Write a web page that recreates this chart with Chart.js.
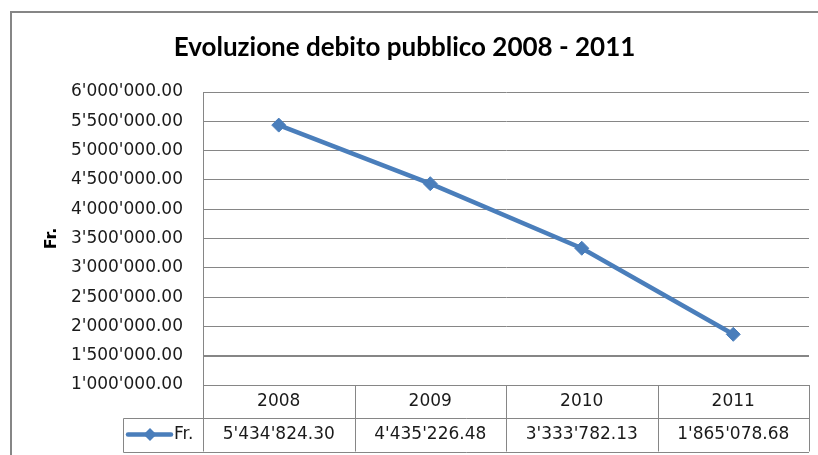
<!DOCTYPE html>
<html><head><meta charset="utf-8">
<script src="https://cdn.jsdelivr.net/npm/chart.js@4/dist/chart.umd.min.js"></script>
<style>html,body{margin:0;padding:0;background:#fff}#wrap{position:relative;width:818px;height:455px}</style>
</head><body><div id="wrap"><canvas id="c" width="818" height="455"></canvas></div>
<script>
const chartTitle = 'Evoluzione debito pubblico 2008 - 2011';
const categories = ['2008', '2009', '2010', '2011'];
const seriesName = 'Fr.';
const values = [5434824.30, 4435226.48, 3333782.13, 1865078.68];
const yMin = 1000000, yMax = 6000000, yStep = 500000;

const FONT = 'DejaVu Sans';
const TITLE_FONT = 'Lato';
const LINE = '#4A7EBB';
const GRID = '#868686';

function fmt(v) {
  const s = Number(v).toFixed(2);
  const [i, d] = s.split('.');
  return i.replace(/\B(?=(\d{3})+(?!\d))/g, "'") + '.' + d;
}

const tablePlugin = {
  id: 'dataTable',
  beforeDraw(chart) {
    const ctx = chart.ctx;
    ctx.save();
    ctx.strokeStyle = GRID; ctx.lineWidth = 2;
    ctx.strokeRect(11, 12, 900, 600);
    ctx.restore();
  },
  afterDraw(chart) {
    const ctx = chart.ctx, x = chart.scales.x, ca = chart.chartArea;
    const n = categories.length;
    const colW = x.getPixelForValue(1) - x.getPixelForValue(0);
    const top = ca.bottom, mid = top + 32.5, bot = top + 66.5;
    const legLeft = 123.5;
    ctx.save();
    ctx.strokeStyle = GRID; ctx.lineWidth = 1;
    ctx.beginPath();
    for (let i = 0; i <= n; i++) {
      const px = Math.round(x.getPixelForValue(0) - colW / 2 + i * colW) + 0.5;
      ctx.moveTo(px, top); ctx.lineTo(px, bot);
    }
    ctx.moveTo(legLeft, Math.round(mid) + 0.5); ctx.lineTo(ca.right, Math.round(mid) + 0.5);
    ctx.moveTo(legLeft, Math.round(bot) + 0.5); ctx.lineTo(ca.right, Math.round(bot) + 0.5);
    ctx.moveTo(legLeft, Math.round(mid) + 0.5); ctx.lineTo(legLeft, Math.round(bot) + 0.5);
    ctx.stroke();
    const cy = (mid + bot) / 2;
    ctx.fillStyle = '#1a1a1a';
    ctx.font = '17px "' + FONT + '"';
    ctx.textAlign = 'center'; ctx.textBaseline = 'middle';
    values.forEach((v, i) => ctx.fillText(fmt(v), x.getPixelForValue(i), cy));
    // legend key
    ctx.strokeStyle = LINE; ctx.lineWidth = 4.5; ctx.lineCap = 'round';
    ctx.beginPath(); ctx.moveTo(128, cy); ctx.lineTo(171, cy); ctx.stroke();
    ctx.fillStyle = LINE;
    ctx.beginPath();
    const dx = 150, r = 6.5;
    ctx.moveTo(dx, cy - r); ctx.lineTo(dx + r, cy); ctx.lineTo(dx, cy + r); ctx.lineTo(dx - r, cy); ctx.closePath(); ctx.fill();
    ctx.fillStyle = '#1a1a1a';
    ctx.textAlign = 'left';
    ctx.fillText(seriesName, 174, cy);
    ctx.restore();
  }
};

new Chart(document.getElementById('c'), {
  type: 'line',
  data: {
    labels: categories,
    datasets: [{
      label: seriesName,
      data: values,
      borderColor: LINE,
      backgroundColor: LINE,
      borderWidth: 4.5,
      pointStyle: 'rectRot',
      pointRadius: 7,
      pointBackgroundColor: LINE,
      pointBorderColor: LINE,
      pointBorderWidth: 1,
      tension: 0,
      clip: false
    }]
  },
  options: {
    responsive: false,
    devicePixelRatio: 1,
    animation: false,
    layout: { padding: { left: 0, right: 9, top: 0, bottom: 0 } },
    plugins: {
      legend: { display: false },
      tooltip: { enabled: false },
      title: {
        display: true,
        text: chartTitle,
        color: '#000',
        font: { family: TITLE_FONT, size: 26, weight: 'bold', lineHeight: 1.2 },
        padding: { top: 32, bottom: 28.8 }
      }
    },
    scales: {
      x: {
        type: 'category',
        offset: true,
        grid: { display: false, drawTicks: false },
        border: { display: false },
        ticks: { color: '#1a1a1a', font: { family: FONT, size: 17 }, padding: 6, maxRotation: 0, autoSkip: false },
        afterFit(s) { s.height = 70; }
      },
      y: {
        min: yMin, max: yMax,
        grid: {
          drawTicks: false,
          color: GRID,
          lineWidth: (c) => (c.tick && c.tick.value === 1500000 ? 2 : 1)
        },
        border: { display: true, color: GRID, width: 1 },
        ticks: { stepSize: yStep, color: '#1a1a1a', font: { family: FONT, size: 17 }, padding: 20, callback: (v) => fmt(v) },
        title: { display: true, text: 'Fr.', color: '#000', font: { family: FONT, size: 16, weight: 'bold' }, padding: { top: 42, bottom: 0 } },
        afterFit(s) { s.width = 203; }
      }
    }
  },
  plugins: [tablePlugin]
});
</script>
</body></html>
